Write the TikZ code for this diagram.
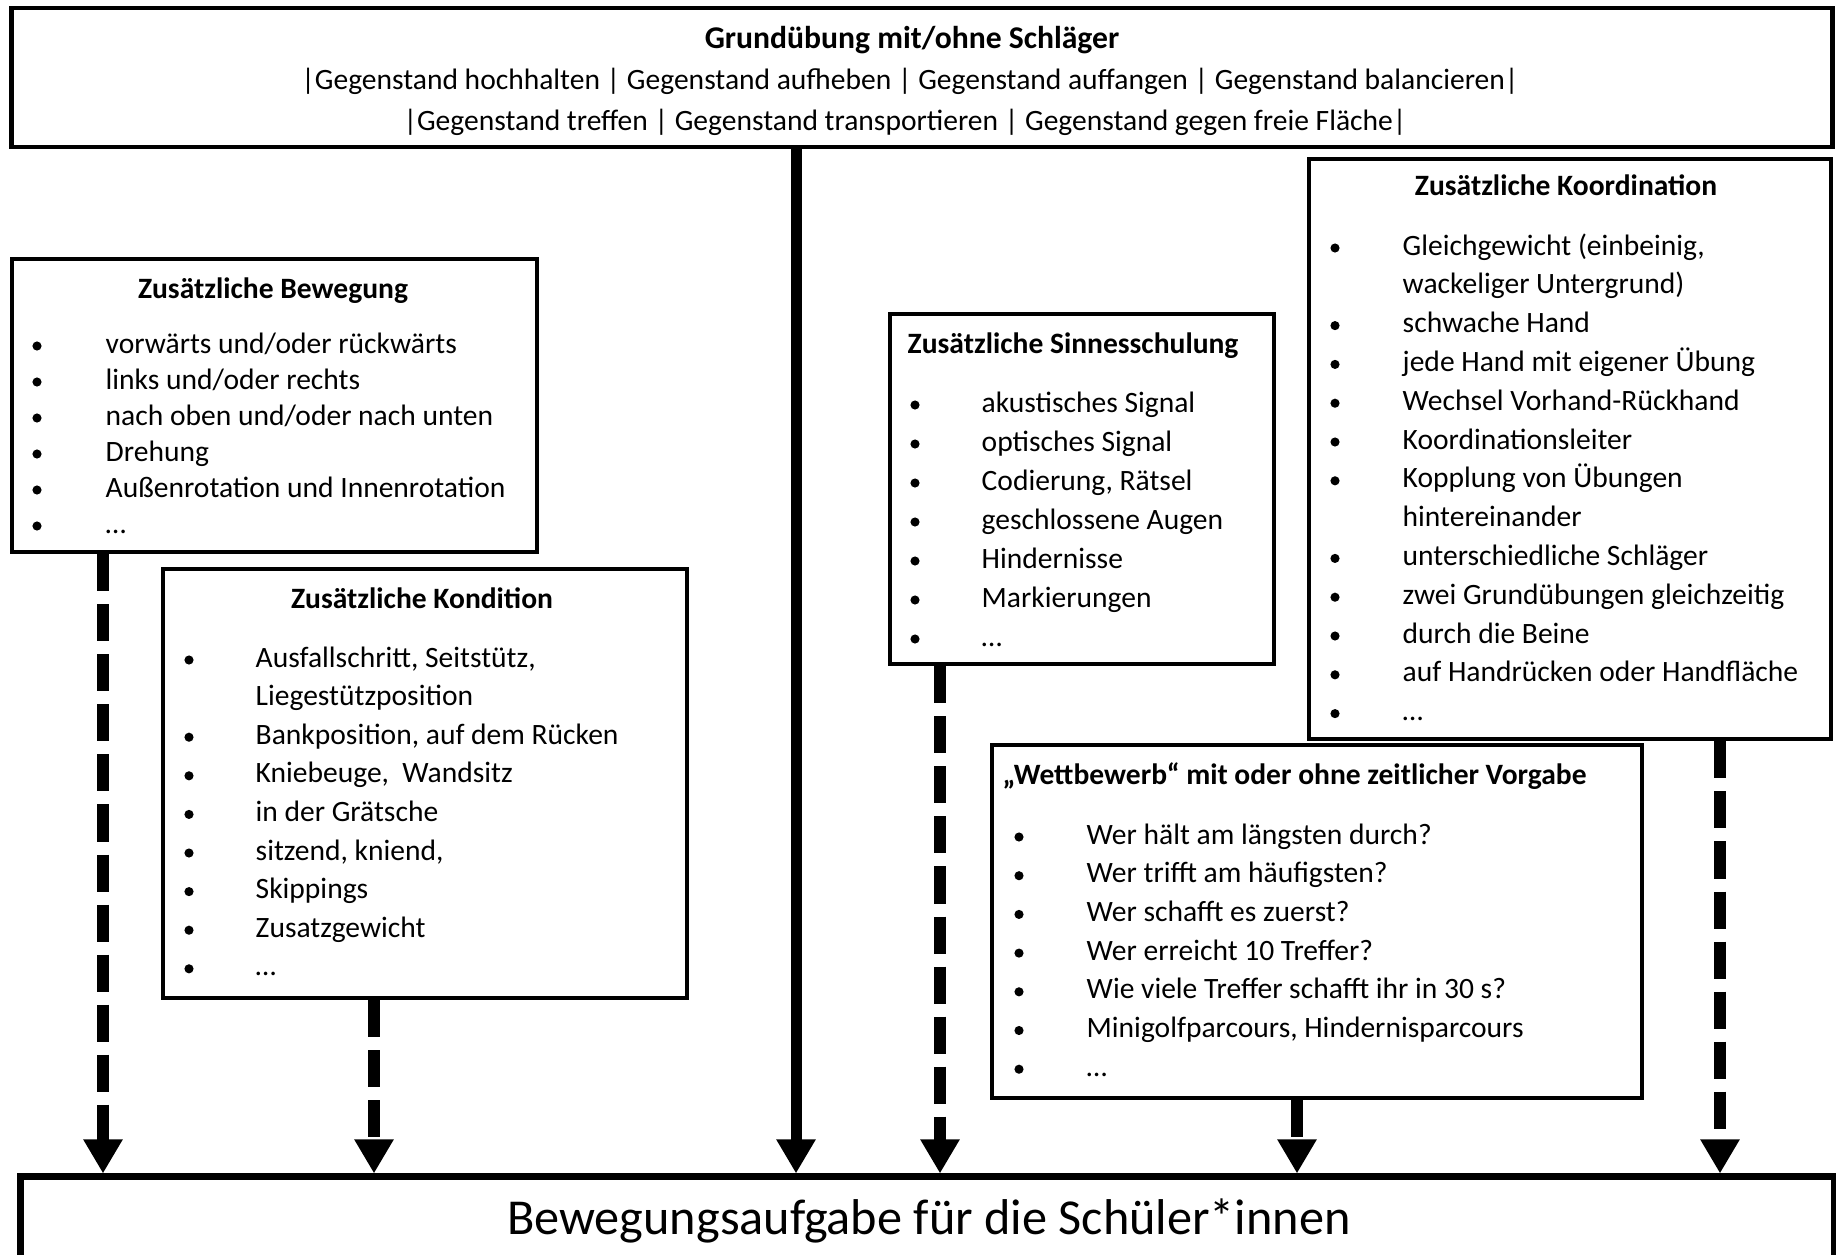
\documentclass[tikz,border=0pt]{standalone}
\usepackage{fontspec}
\setmainfont{Carlito}
\usetikzlibrary{arrows.meta, math}

\tikzset{
  box/.style={draw, line width=0.045cm, fill=white, inner sep=0},
  itm/.style={anchor=west, inner sep=0, text height=6pt, text depth=2pt,
    font=\fontsize{8.4}{10}\selectfont},
  ttl/.style={itm, anchor=center, font=\fontsize{8.4}{10}\selectfont\bfseries},
  tip/.style={-{Triangle[width=0.37cm,length=0.34cm]}},
  dasharrow/.style={tip, line width=0.12cm, dash pattern=on 0.37cm off 0.13cm},
  fullarrow/.style={tip, line width=0.11cm},
}

\begin{document}
\begin{tikzpicture}[x=0.01cm, y=-0.01cm]

\useasboundingbox (0,0) rectangle (1836,1254);
\clip (0,0) rectangle (1836,1254);

\tikzmath{
\r = 1.3; %bullet radius in pt
}

% top box
\node[box, minimum width=18.2cm, minimum height=1.39cm] (grund) at (922,77.5) {};
\node[ttl, font=\fontsize{9}{10}\selectfont\bfseries] (grund-t) at (912,41) {Grundübung mit/ohne Schläger};
\node[itm, anchor=center] (grund-a) at (910,82)
  {|Gegenstand hochhalten | Gegenstand aufheben | Gegenstand auffangen | Gegenstand balancieren|};
\node[itm, anchor=center] (grund-b) at (905,123)
  {|Gegenstand treffen | Gegenstand transportieren | Gegenstand gegen freie Fläche|};

% bottom box
\node[box, line width=0.07cm, minimum width=18.13cm, minimum height=1.23cm] (task) at (927.5,1238.5) {};
\node[itm, anchor=center, font=\fontsize{14.3}{16}\selectfont] (task-t) at (929,1227)
  {Bewegungsaufgabe für die Schüler*innen};

% Bewegung
\node[box, minimum width=5.25cm, minimum height=2.93cm] (bew) at (274.5,405.5) {};
\node[ttl] (bew-t) at (273,291) {Zusätzliche Bewegung};
\foreach \b/\t [count=\i from 0] in {1/{vorwärts und/oder rückwärts}, 1/{links und/oder rechts},
    1/{nach oben und/oder nach unten}, 1/Drehung, 1/{Außenrotation und Innenrotation}, 1/…}{
  \tikzmath{\yy = 346+36*\i;}
  \node[itm] (bew-\i) at (105,\yy) {\t};
  \ifnum\b=1 \fill (37,\yy) circle (\r pt);\fi
}

% Kondition
\node[box, minimum width=5.24cm, minimum height=4.29cm] (kond) at (425,783.5) {};
\node[ttl] (kond-t) at (422,601) {Zusätzliche Kondition};
\foreach \b/\t [count=\i from 0] in {1/{Ausfallschritt, Seitstütz,}, 0/Liegestützposition,
    1/{Bankposition, auf dem Rücken}, 1/{Kniebeuge,\ \ Wandsitz}, 1/in der Grätsche,
    1/{sitzend, kniend,}, 1/Skippings, 1/Zusatzgewicht, 1/…}{
  \tikzmath{\yy = 660+38.6*\i;}
  \node[itm] (kond-\i) at (255,\yy) {\t};
  \ifnum\b=1 \fill (189,\yy) circle (\r pt);\fi
}

% Sinnesschulung
\node[box, minimum width=3.84cm, minimum height=3.5cm] (sinn) at (1082,489) {};
\node[ttl, anchor=west] (sinn-t) at (907,346) {Zusätzliche Sinnesschulung};
\foreach \b/\t [count=\i from 0] in {1/akustisches Signal, 1/optisches Signal,
    1/{Codierung, Rätsel}, 1/geschlossene Augen, 1/Hindernisse, 1/Markierungen, 1/…}{
  \tikzmath{\yy = 405+39*\i;}
  \node[itm] (sinn-\i) at (981,\yy) {\t};
  \ifnum\b=1 \fill (915,\yy) circle (\r pt);\fi
}

% Koordination
\node[box, minimum width=5.22cm, minimum height=5.8cm] (koord) at (1570,449) {};
\node[ttl] (koord-t) at (1566,188) {Zusätzliche Koordination};
\foreach \b/\t [count=\i from 0] in {1/{Gleichgewicht (einbeinig,}, 0/wackeliger Untergrund),
    1/schwache Hand, 1/jede Hand mit eigener Übung, 1/Wechsel Vorhand-Rückhand,
    1/Koordinationsleiter, 1/Kopplung von Übungen, 0/hintereinander,
    1/unterschiedliche Schläger, 1/zwei Grundübungen gleichzeitig, 1/durch die Beine,
    1/auf Handrücken oder Handfläche, 1/…}{
  \tikzmath{\yy = 248+38.8*\i;}
  \node[itm] (koord-\i) at (1402,\yy) {\t};
  \ifnum\b=1 \fill (1335,\yy) circle (\r pt);\fi
}

% Wettbewerb
\node[box, minimum width=6.5cm, minimum height=3.53cm] (wett) at (1317,921.5) {};
\node[ttl, anchor=west] (wett-t) at (1002,777) {„Wettbewerb“ mit oder ohne zeitlicher Vorgabe};
\foreach \b/\t [count=\i from 0] in {1/Wer hält am längsten durch?, 1/Wer trifft am häufigsten?,
    1/Wer schafft es zuerst?, 1/Wer erreicht 10 Treffer?, 1/Wie viele Treffer schafft ihr in 30 s?,
    1/{Minigolfparcours, Hindernisparcours}, 1/…}{
  \tikzmath{\yy = 837+38.7*\i;}
  \node[itm] (wett-\i) at (1086,\yy) {\t};
  \ifnum\b=1 \fill (1019,\yy) circle (\r pt);\fi
}

% arrows
\draw[fullarrow] (grund.south -| 796,0) -- (task.north -| 796,0);
\draw[dasharrow] (bew.south -| 103,0) -- (task.north -| 103,0);
\draw[dasharrow] (kond.south -| 374,0) -- (task.north -| 374,0);
\draw[dasharrow] (sinn.south -| 940,0) -- (task.north -| 940,0);
\draw[dasharrow] (wett.south -| 1297,0) -- (task.north -| 1297,0);
\draw[dasharrow] (koord.south -| 1720,0) -- (task.north -| 1720,0);

\end{tikzpicture}
\end{document}
